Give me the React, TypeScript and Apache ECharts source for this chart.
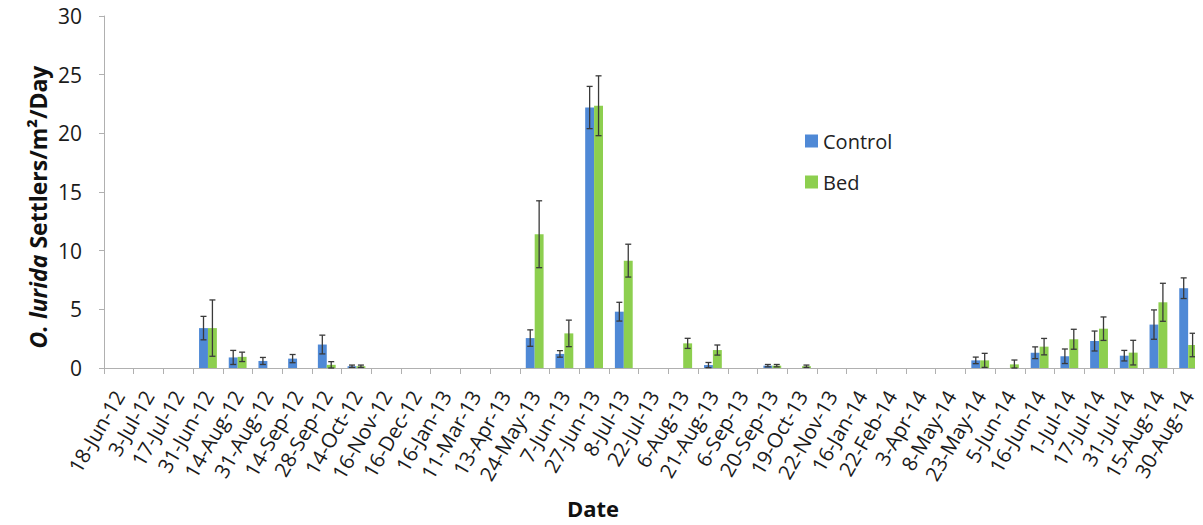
import React, { useEffect, useRef } from "react";
import * as echarts from "echarts";

const categories = [
  "18-Jun-12", "3-Jul-12", "17-Jul-12", "31-Jun-12", "14-Aug-12", "31-Aug-12", "14-Sep-12", "28-Sep-12",
  "14-Oct-12", "16-Nov-12", "16-Dec-12", "16-Jan-13", "11-Mar-13", "13-Apr-13", "24-May-13", "7-Jun-13",
  "27-Jun-13", "8-Jul-13", "22-Jul-13", "6-Aug-13", "21-Aug-13", "6-Sep-13", "20-Sep-13", "19-Oct-13",
  "22-Nov-13", "16-Jan-14", "22-Feb-14", "3-Apr-14", "8-May-14", "23-May-14", "5-Jun-14", "16-Jun-14",
  "1-Jul-14", "17-Jul-14", "31-Jul-14", "15-Aug-14", "30-Aug-14",
];

const controlValues = [
  0, 0, 0, 3.4, 0.9, 0.6, 0.8, 2.0, 0.15, 0, 0, 0, 0, 0, 2.55, 1.2, 22.2, 4.8, 0, 0, 0.25, 0, 0.2, 0, 0,
  0, 0, 0, 0, 0.65, 0, 1.3, 1.0, 2.3, 1.05, 3.7, 6.8,
];
const controlErrors = [
  0, 0, 0, 1.0, 0.6, 0.3, 0.35, 0.8, 0.1, 0, 0, 0, 0, 0, 0.7, 0.28, 1.8, 0.8, 0, 0, 0.22, 0, 0.1, 0, 0,
  0, 0, 0, 0, 0.28, 0, 0.5, 0.62, 0.85, 0.45, 1.25, 0.88,
];
const bedValues = [
  0, 0, 0, 3.4, 0.95, 0, 0, 0.27, 0.15, 0, 0, 0, 0, 0, 11.4, 2.95, 22.35, 9.15, 0, 2.1, 1.53, 0, 0.2, 0.15,
  0, 0, 0, 0, 0, 0.65, 0.31, 1.82, 2.45, 3.35, 1.31, 5.6, 1.96,
];
const bedErrors = [
  0, 0, 0, 2.4, 0.4, 0, 0, 0.27, 0.1, 0, 0, 0, 0, 0, 2.85, 1.13, 2.55, 1.4, 0, 0.43, 0.43, 0, 0.1, 0.1,
  0, 0, 0, 0, 0, 0.6, 0.37, 0.7, 0.85, 1.0, 1.05, 1.62, 1.0,
];

const yTicks = { min: 0, max: 30, interval: 5 };

const BLUE = "#4F89D6";
const GREEN = "#8DCF4F";
const FONT = "'Open Sans', sans-serif";
const GAP = 0.4;

function errorSeries(values: number[], errors: number[], side: number) {
  const data = values
    .map((v, i) => [i, v, errors[i]])
    .filter((d) => d[2] > 0);
  return {
    type: "custom",
    z: 5,
    silent: true,
    data,
    renderItem: (params: any, api: any) => {
      const idx = api.value(0);
      const val = api.value(1);
      const err = api.value(2);
      const band = api.size([1, 0])[0];
      const bw = (band * (1 - GAP)) / 2;
      const center = api.coord([idx, val]);
      const x = center[0] + (side * bw) / 2;
      const top = api.coord([idx, val + err])[1];
      const bot = api.coord([idx, Math.max(0, val - err)])[1];
      const cap = 3;
      const style = { stroke: "#3a3a3a", lineWidth: 1.3 };
      return {
        type: "group",
        children: [
          { type: "line", shape: { x1: x, y1: top, x2: x, y2: bot }, style },
          { type: "line", shape: { x1: x - cap, y1: top, x2: x + cap, y2: top }, style },
          { type: "line", shape: { x1: x - cap, y1: bot, x2: x + cap, y2: bot }, style },
        ],
      };
    },
  };
}

export default function App() {
  const ref = useRef<HTMLDivElement>(null);
  useEffect(() => {
    if (!ref.current) return;
    const chart = echarts.init(ref.current, null, { renderer: "svg" });
    chart.setOption({
      animation: false,
      backgroundColor: "#ffffff",
      textStyle: { fontFamily: FONT },
      grid: { left: 104, right: 0, top: 16, bottom: 157, containLabel: false },
      legend: {
        orient: "vertical",
        left: 800,
        top: 126,
        itemWidth: 13,
        itemHeight: 13,
        itemGap: 21,
        icon: "rect",
        textStyle: { fontSize: 20, color: "#222", fontFamily: FONT },
        data: ["Control", "Bed"],
      },
      xAxis: {
        type: "category",
        data: categories,
        axisLine: { lineStyle: { color: "#b0b0b0", width: 1 } },
        axisTick: { show: true, length: 6, lineStyle: { color: "#b0b0b0" }, interval: 0 },
        axisLabel: {
          interval: 0,
          rotate: 60,
          margin: 24,
          fontSize: 20.5,
          color: "#1a1a1a",
          fontFamily: FONT,
        },
        splitLine: { show: false },
      },
      yAxis: {
        type: "value",
        min: yTicks.min,
        max: yTicks.max,
        interval: yTicks.interval,
        axisLine: { show: true, lineStyle: { color: "#b0b0b0", width: 1 } },
        axisTick: { show: true, length: 5, lineStyle: { color: "#b0b0b0" } },
        axisLabel: { fontSize: 21, color: "#1a1a1a", margin: 22, fontFamily: FONT },
        splitLine: { show: false },
      },
      graphic: [
        {
          type: "text",
          x: 38,
          y: 207,
          rotation: Math.PI / 2,
          style: {
            text: "{i|O. lurida} {b|Settlers/m²/Day}",
            align: "center",
            verticalAlign: "middle",
            rich: {
              i: { fontSize: 23, fontWeight: "bold", fontStyle: "italic", fontFamily: FONT, fill: "#111" },
              b: { fontSize: 23, fontWeight: "bold", fontFamily: FONT, fill: "#111" },
            },
            font: `bold 23px ${FONT}`,
          },
        },
        {
          type: "text",
          x: 593,
          y: 508,
          style: {
            text: "Date",
            align: "center",
            verticalAlign: "middle",
            font: `bold 22px ${FONT}`,
            fill: "#111",
          },
        },
      ],
      series: [
        {
          name: "Control",
          type: "bar",
          data: controlValues,
          itemStyle: { color: BLUE },
          barGap: "0%",
          barCategoryGap: `${GAP * 100}%`,
        },
        {
          name: "Bed",
          type: "bar",
          data: bedValues,
          itemStyle: { color: GREEN },
          barGap: "0%",
          barCategoryGap: `${GAP * 100}%`,
        },
        errorSeries(controlValues, controlErrors, -1),
        errorSeries(bedValues, bedErrors, 1),
      ],
    });
    return () => chart.dispose();
  }, []);
  return <div ref={ref} style={{ width: 1203, height: 525, margin: -8 }} />;
}
